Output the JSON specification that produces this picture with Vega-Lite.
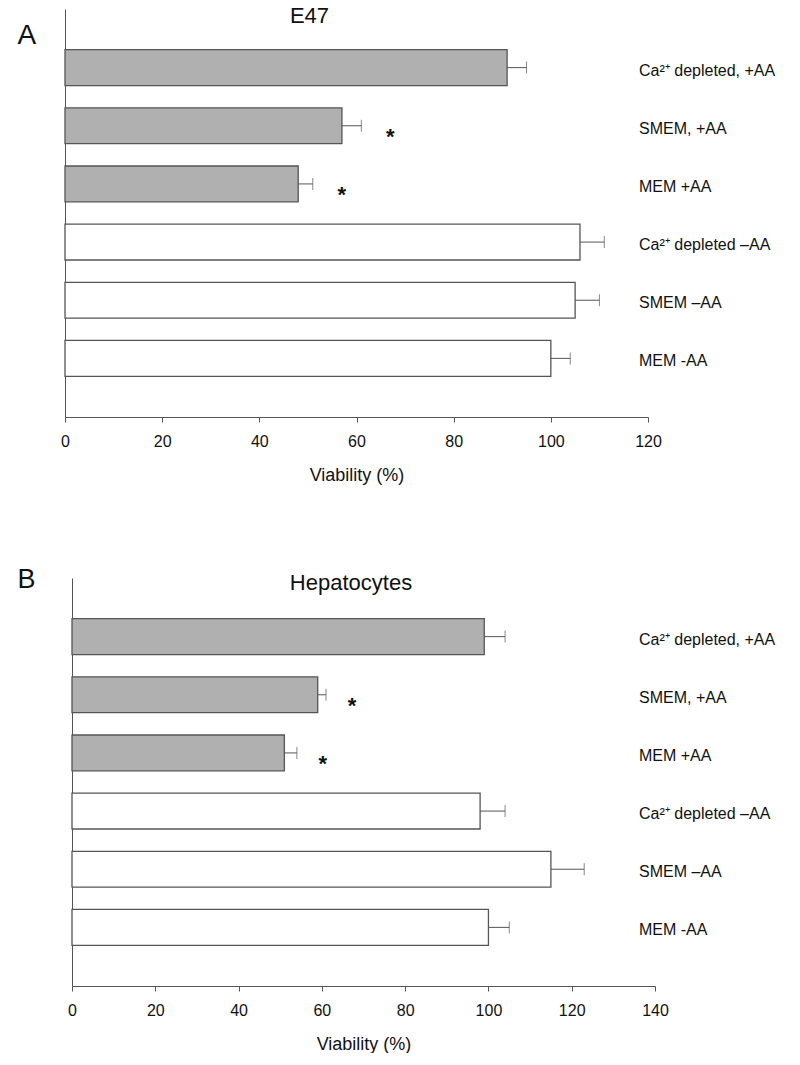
{
  "$schema": "https://vega.github.io/schema/vega-lite/v6.json",
  "padding": {"left": 17, "top": 5, "right": 0, "bottom": 0},
  "background": "white",
  "config": {"font": "Liberation Sans", "view": {"stroke": null}},
  "datasets": {
    "e47": [
      {"condition": "Ca²⁺ depleted, +AA", "aa": "+AA", "viability": 91, "upper": 95, "sig": ""},
      {"condition": "SMEM, +AA", "aa": "+AA", "viability": 57, "upper": 61, "sig": "*"},
      {"condition": "MEM +AA", "aa": "+AA", "viability": 48, "upper": 51, "sig": "*"},
      {"condition": "Ca²⁺ depleted –AA", "aa": "-AA", "viability": 106, "upper": 111, "sig": ""},
      {"condition": "SMEM –AA", "aa": "-AA", "viability": 105, "upper": 110, "sig": ""},
      {"condition": "MEM -AA", "aa": "-AA", "viability": 100, "upper": 104, "sig": ""}
    ],
    "hep": [
      {"condition": "Ca²⁺ depleted, +AA", "aa": "+AA", "viability": 99, "upper": 104, "sig": ""},
      {"condition": "SMEM, +AA", "aa": "+AA", "viability": 59, "upper": 61, "sig": "*"},
      {"condition": "MEM +AA", "aa": "+AA", "viability": 51, "upper": 54, "sig": "*"},
      {"condition": "Ca²⁺ depleted –AA", "aa": "-AA", "viability": 98, "upper": 104, "sig": ""},
      {"condition": "SMEM –AA", "aa": "-AA", "viability": 115, "upper": 123, "sig": ""},
      {"condition": "MEM -AA", "aa": "-AA", "viability": 100, "upper": 105, "sig": ""}
    ]
  },
  "columns": 1,
  "spacing": 81,
  "align": "none",
  "concat": [
    {
      "width": 583,
      "height": 408,
      "data": {"name": "e47"},
      "title": {"text": "E47", "fontSize": 22, "fontWeight": "normal", "color": "#111", "anchor": "middle", "dx": -47, "dy": 20, "offset": -16, "baseline": "alphabetic"},
      "encoding": {
        "y": {"field": "condition", "type": "nominal", "sort": null,
          "scale": {"paddingInner": 0.384, "paddingOuter": 0.7},
          "axis": {"title": "A", "titleAngle": 0, "titleAlign": "left", "titleBaseline": "alphabetic", "titleX": -48, "titleY": 34, "titleFontSize": 28, "titleFontWeight": "normal", "titleColor": "#111", "labels": false, "ticks": false, "domain": true, "domainColor": "#555", "grid": false}}
      },
      "layer": [
        {
          "mark": {"type": "bar", "stroke": "#555", "strokeWidth": 1.3},
          "encoding": {
            "x": {"field": "viability", "type": "quantitative",
              "scale": {"domain": [0, 120], "nice": false},
              "axis": {"values": [0, 20, 40, 60, 80, 100, 120], "labelFlush": false, "grid": false, "tickSize": 5, "domainColor": "#555", "tickColor": "#555", "labelFontSize": 16, "labelColor": "#111", "labelPadding": 11, "title": "Viability (%)", "titleFontSize": 18, "titleFontWeight": "normal", "titleColor": "#111", "titlePadding": 17}},
            "fill": {"field": "aa", "type": "nominal", "scale": {"domain": ["+AA", "-AA"], "range": ["#b0b0b0", "#ffffff"]}, "legend": null}
          }
        },
        {
          "mark": {"type": "rule", "color": "#555", "strokeWidth": 1},
          "encoding": {"x": {"field": "viability", "type": "quantitative"}, "x2": {"field": "upper"}}
        },
        {
          "mark": {"type": "tick", "orient": "vertical", "color": "#555", "size": 12, "thickness": 1},
          "encoding": {"x": {"field": "upper", "type": "quantitative"}}
        },
        {
          "mark": {"type": "text", "fontSize": 22, "fontWeight": "bold", "align": "center", "baseline": "middle", "dx": 29, "dy": 11, "color": "#111"},
          "encoding": {"x": {"field": "upper", "type": "quantitative"}, "text": {"field": "sig"}}
        },
        {
          "mark": {"type": "text", "fontSize": 16, "align": "left", "baseline": "middle", "dx": -9, "dy": 3, "color": "#111"},
          "encoding": {"x": {"datum": 120}, "text": {"field": "condition"}}
        }
      ]
    },
    {
      "width": 590,
      "height": 408,
      "data": {"name": "hep"},
      "title": {"text": "Hepatocytes", "fontSize": 22, "fontWeight": "normal", "color": "#111", "anchor": "middle", "dx": -9, "dy": 36, "offset": -11, "baseline": "alphabetic"},
      "encoding": {
        "y": {"field": "condition", "type": "nominal", "sort": null,
          "scale": {"paddingInner": 0.384, "paddingOuter": 0.7},
          "axis": {"offset": -7, "title": "B", "titleAngle": 0, "titleAlign": "left", "titleBaseline": "alphabetic", "titleX": -55, "titleY": 9, "titleFontSize": 27, "titleFontWeight": "normal", "titleColor": "#111", "labels": false, "ticks": false, "domain": true, "domainColor": "#555", "grid": false}}
      },
      "layer": [
        {
          "mark": {"type": "bar", "stroke": "#555", "strokeWidth": 1.3},
          "encoding": {
            "x": {"field": "viability", "type": "quantitative",
              "scale": {"domain": [0, 140], "nice": false, "range": [7, 590]},
              "axis": {"values": [0, 20, 40, 60, 80, 100, 120, 140], "labelFlush": false, "grid": false, "tickSize": 5, "domainColor": "#555", "tickColor": "#555", "labelFontSize": 16, "labelColor": "#111", "labelPadding": 11, "title": "Viability (%)", "titleFontSize": 18, "titleFontWeight": "normal", "titleColor": "#111", "titlePadding": 17}},
            "fill": {"field": "aa", "type": "nominal", "scale": {"domain": ["+AA", "-AA"], "range": ["#b0b0b0", "#ffffff"]}, "legend": null}
          }
        },
        {
          "mark": {"type": "rule", "color": "#555", "strokeWidth": 1},
          "encoding": {"x": {"field": "viability", "type": "quantitative"}, "x2": {"field": "upper"}}
        },
        {
          "mark": {"type": "tick", "orient": "vertical", "color": "#555", "size": 12, "thickness": 1},
          "encoding": {"x": {"field": "upper", "type": "quantitative"}}
        },
        {
          "mark": {"type": "text", "fontSize": 22, "fontWeight": "bold", "align": "center", "baseline": "middle", "dx": 26, "dy": 11, "color": "#111"},
          "encoding": {"x": {"field": "upper", "type": "quantitative"}, "text": {"field": "sig"}}
        },
        {
          "mark": {"type": "text", "fontSize": 16, "align": "left", "baseline": "middle", "dx": -16, "dy": 3, "color": "#111"},
          "encoding": {"x": {"datum": 140}, "text": {"field": "condition"}}
        }
      ]
    }
  ]
}
